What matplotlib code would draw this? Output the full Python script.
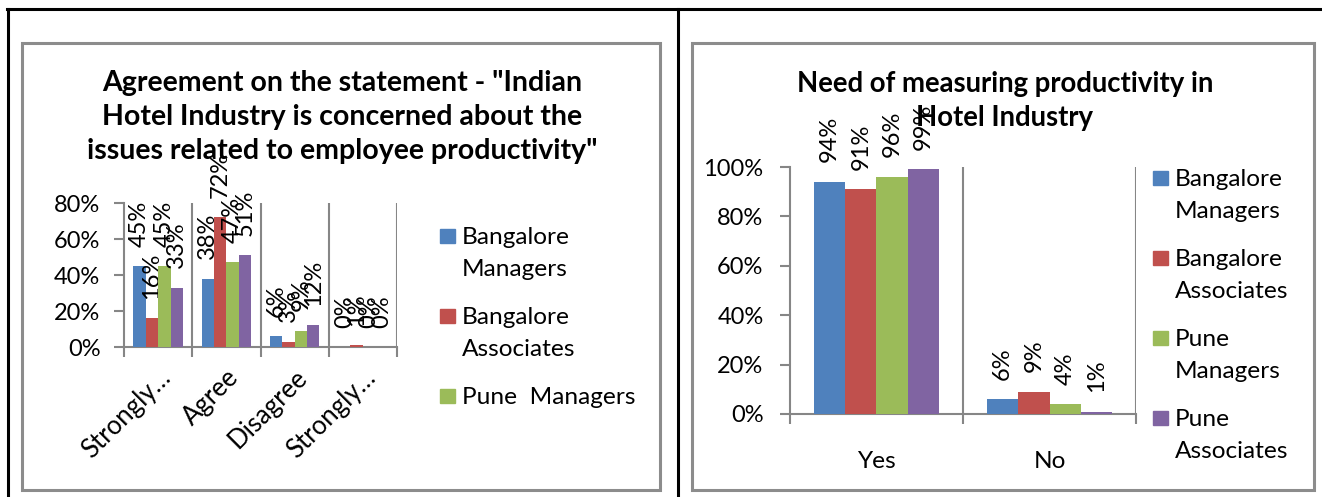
import numpy as np
import matplotlib
matplotlib.use("Agg")
import matplotlib.pyplot as plt
from matplotlib.patches import Rectangle
from matplotlib.lines import Line2D

plt.rcParams['font.family'] = ['Lato', 'DejaVu Sans']

# datos
series = ["Bangalore Managers", "Bangalore Associates", "Pune  Managers", "Pune Associates"]
series_right = ["Bangalore\nManagers", "Bangalore\nAssociates", "Pune\nManagers", "Pune\nAssociates"]
colores = ["#4F81BD", "#C0504D", "#9BBB59", "#8064A2"]

cat_izq = ["Strongly…", "Agree", "Disagree", "Strongly…"]
bm_izq = [0.45, 0.38, 0.06, 0.00]
ba_izq = [0.16, 0.72, 0.03, 0.01]
pm_izq = [0.45, 0.47, 0.09, 0.00]
pa_izq = [0.33, 0.51, 0.12, 0.00]

cat_der = ["Yes", "No"]
bm_der = [0.94, 0.06]
ba_der = [0.91, 0.09]
pm_der = [0.96, 0.04]
pa_der = [0.99, 0.01]

titulo_izq = 'Agreement on the statement - "Indian\nHotel Industry is concerned about the\nissues related to employee productivity"'
titulo_der = "Need of measuring productivity in\nHotel Industry"

W, H = 1322, 497
fig = plt.figure(figsize=(W / 100, H / 100), dpi=100)
gris = "#868686"
fs = 17
fs_ley = 17.6


def caja(x0, y0, x1, y1):
    # rectangulo en pixeles (y desde arriba)
    return [x0 / W, 1 - y1 / H, (x1 - x0) / W, (y1 - y0) / H]


# marco de la tabla
fig.add_artist(Line2D([7 / W, 1], [1 - 9 / H, 1 - 9 / H], color="black", lw=2.2))
fig.add_artist(Line2D([8 / W, 8 / W], [0, 1 - 9 / H], color="black", lw=2.2))
fig.add_artist(Line2D([678 / W, 678 / W], [0, 1 - 9 / H], color="black", lw=2.2))

# cajas de los graficos
for b in [caja(22, 43, 660, 490), caja(692, 43, 1314, 490)]:
    fig.add_artist(Rectangle((b[0], b[1]), b[2], b[3], transform=fig.transFigure,
                             fill=False, edgecolor="#8c8c8c", lw=2.2))


def barras(ax, cats, valores, ymax, paso):
    n = len(cats)
    x = np.arange(n)
    w = 1 / 5.5
    for i, vals in enumerate(valores):
        pos = x + (i - 1.5) * w
        ax.bar(pos, vals, w, color=colores[i], zorder=3)
        for p, v in zip(pos, vals):
            ax.annotate(f"{round(v * 100)}%", (p, v), xytext=(0, 14), textcoords="offset points",
                        rotation=90, ha="center", va="bottom", fontsize=fs, annotation_clip=False)
    ax.set_xlim(-0.5, n - 0.5)
    ax.set_ylim(0, ymax)
    ax.set_yticks(np.arange(0, ymax + 0.001, paso))
    ax.set_yticklabels([f"{int(round(t * 100))}%" for t in np.arange(0, ymax + 0.001, paso)], fontsize=fs)
    ax.set_xticks(np.arange(-0.5, n, 1))
    ax.set_xticklabels([])
    ax.set_xticks(x, minor=True)
    ax.tick_params(axis="x", which="major", length=7, color=gris, width=1.5, direction="out")
    ax.tick_params(axis="x", which="minor", length=0)
    ax.tick_params(axis="y", length=7, color=gris, width=1.5, direction="out")
    for b in np.arange(0.5, n, 1):
        ax.axvline(b, color=gris, lw=1.5, zorder=1)
    for s in ["top", "right"]:
        ax.spines[s].set_visible(False)
    for s in ["left", "bottom"]:
        ax.spines[s].set_color(gris)
        ax.spines[s].set_linewidth(1.5)


# grafico izquierdo
ax1 = fig.add_axes(caja(124, 203, 397, 347))
barras(ax1, cat_izq, [bm_izq, ba_izq, pm_izq, pa_izq], 0.8, 0.2)
ax1.tick_params(axis="y", pad=10)
ax1.set_xticklabels(cat_izq, minor=True, rotation=45, ha="right", va="top",
                    rotation_mode="anchor", fontsize=18.5)
ax1.tick_params(axis="x", which="minor", pad=13)
fig.text(342 / W, 1 - 117 / H, titulo_izq, ha="center", va="center", fontsize=20.5,
         fontweight="bold", linespacing=1.36)

# leyenda izquierda (la cuarta entrada queda cortada en el original)
etq_izq = ["Bangalore\nManagers", "Bangalore\nAssociates", "Pune  Managers"]
for i, t in enumerate(etq_izq):
    yc = 236 + 80 * i
    fig.add_artist(Rectangle((440 / W, 1 - (yc + 7) / H), 15 / W, 14 / H,
                             transform=fig.transFigure, color=colores[i]))
    fig.text(462 / W, 1 - (yc - 9) / H, t, ha="left", va="top", fontsize=fs_ley, linespacing=1.62)

# grafico derecho
ax2 = fig.add_axes(caja(790, 167, 1136, 414))
barras(ax2, cat_der, [bm_der, ba_der, pm_der, pa_der], 1.0, 0.2)
ax2.tick_params(axis="y", pad=12)
ax2.set_xticklabels(cat_der, minor=True, fontsize=fs_ley)
ax2.tick_params(axis="x", which="minor", pad=27)
fig.text(1005 / W, 1 - 101 / H, titulo_der, ha="center", va="center", fontsize=19.8,
         fontweight="bold", linespacing=1.38)

for i, t in enumerate(series_right):
    yc = 178 + 80 * i
    fig.add_artist(Rectangle((1153 / W, 1 - (yc + 7) / H), 15 / W, 14 / H,
                             transform=fig.transFigure, color=colores[i]))
    fig.text(1175 / W, 1 - (yc - 9) / H, t, ha="left", va="top", fontsize=fs_ley, linespacing=1.62)

plt.savefig("out.png", dpi=100)
